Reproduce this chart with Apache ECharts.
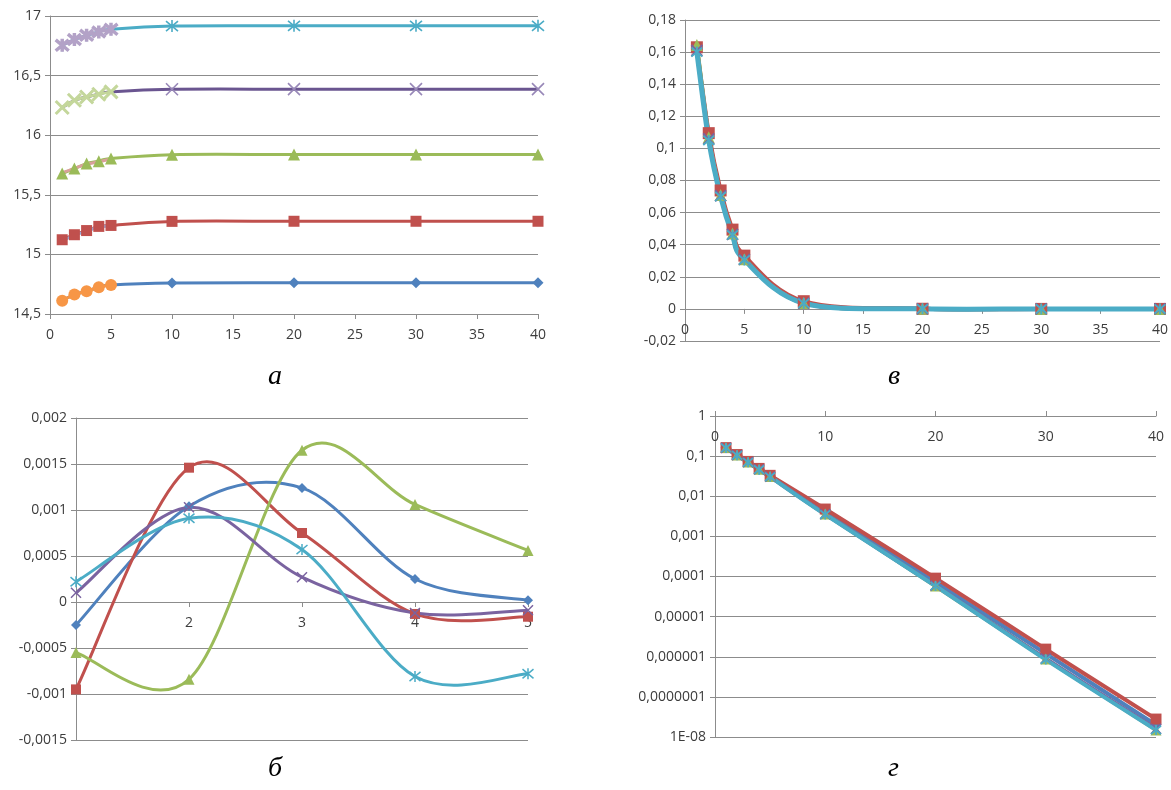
<!DOCTYPE html>
<html><head><meta charset="utf-8">
<script src="https://cdn.jsdelivr.net/npm/echarts@6/dist/echarts.min.js"></script>
<style>html,body{margin:0;padding:0;background:#fff}#c{width:1171px;height:790px}</style>
</head><body><div id="c"></div>
<script>
// ---------- DATA ----------
const xFull = [1, 2, 3, 4, 5, 10, 20, 30, 40];
const xShort = [1, 2, 3, 4, 5];

// Panel а
const a1Main  = [14.612, 14.663, 14.69, 14.724, 14.744, 14.761, 14.762, 14.762, 14.762];
const a1Early = [14.612, 14.663, 14.69, 14.724, 14.744];
const a2Main  = [15.123, 15.165, 15.2, 15.235, 15.243, 15.277, 15.278, 15.278, 15.278];
const a2Early = [15.115, 15.16, 15.196, 15.228, 15.24];
const a3Main  = [15.678, 15.72, 15.762, 15.781, 15.804, 15.837, 15.838, 15.838, 15.838];
const a3Early = [15.685, 15.722, 15.755, 15.778, 15.8];
const a4Main  = [16.232, 16.293, 16.321, 16.344, 16.363, 16.385, 16.386, 16.386, 16.386];
const a4Early = [16.232, 16.293, 16.321, 16.344, 16.363];
const a5Main  = [16.754, 16.802, 16.838, 16.866, 16.888, 16.916, 16.918, 16.918, 16.918];
const a5Early = [16.754, 16.802, 16.838, 16.866, 16.888];

// Panel б
const bX      = [1, 2, 3, 4, 5];
const bBlue   = [-0.00025, 0.00104, 0.00124, 0.00025, 0.00002];
const bRed    = [-0.00095, 0.00146, 0.00075, -0.00013, -0.00016];
const bGreen  = [-0.00055, -0.00084, 0.00165, 0.00106, 0.00056];
const bPurple = [0.0001, 0.00103, 0.00027, -0.00012, -0.00009];
const bTeal   = [0.00022, 0.00091, 0.00057, -0.00081, -0.00078];

// Panels в and г (same data, linear and log scale)
const vBlue   = [0.162, 0.108, 0.072, 0.048, 0.0325, 0.0041, 0.000072, 0.0000012, 0.00000002];
const vRed    = [0.163, 0.1095, 0.0738, 0.0494, 0.0332, 0.0048, 0.000091, 0.00000155, 0.000000028];
const vGreen  = [0.1645, 0.107, 0.071, 0.047, 0.031, 0.0036, 0.000058, 0.00000088, 0.000000015];
const vPurple = [0.161, 0.106, 0.0705, 0.0465, 0.0308, 0.0036, 0.000059, 0.0000009, 0.000000016];
const vTeal   = [0.16, 0.105, 0.07, 0.046, 0.0305, 0.0035, 0.000058, 0.00000085, 0.000000015];

// Tick labels of the log axis, exponent -8 .. 0
const logTickLabels = ['1E-08', '0,0000001', '0,000001', '0,00001', '0,0001', '0,001', '0,01', '0,1', '1'];
const captions = ['а', 'в', 'б', 'г'];

// ---------- STYLE / LAYOUT ----------
const C = {
  blue: '#4F81BD', red: '#C0504D', green: '#9BBB59', purple: '#7a63a0', teal: '#4BACC6',
  orange: '#F79646', ltblue: '#9BAAD8', salmon: '#D9A09A', ltgreen: '#C4D79B', lavender: '#B3A2C7',
  dkpurple: '#6a5590', xpurple: '#9888b8'
};
const SYM_X = 'path://M0,0L10,10M10,0L0,10';
const SYM_AST = 'path://M0,0L10,10M10,0L0,10M5,-1L5,11';
const gridCol = '#8c8c8c';
const labelFont = { fontFamily: 'Open Sans', fontSize: 14, color: '#3c3c3c' };
const comma = v => String(+(+v).toPrecision(10)).replace('.', ',');

const G = [
  { left: 50, top: 16, width: 488, height: 298 },    // а
  { left: 685, top: 20, width: 476, height: 321 },   // в
  { left: 76, top: 418, width: 452, height: 322 },   // б
  { left: 715, top: 416, width: 441, height: 321 }   // г
];
const Y = [[14.5, 17, 0.5], [-0.02, 0.18, 0.02], [-0.0015, 0.002, 0.0005]];
// horizontal axis crosses the vertical one at 0 (Excel style)
const zeroOffset = gi => -G[gi].height * (0 - Y[gi][0]) / (Y[gi][1] - Y[gi][0]);

function mk(xs, ys) { return xs.map((x, i) => [x, ys[i]]); }

// Excel-like smoothed line (Catmull-Rom, tension 1/6) drawn through the axis scales
function curve(idx, xs, ys, color, width) {
  const pts = mk(xs, ys);
  return {
    type: 'custom', xAxisIndex: idx, yAxisIndex: idx, data: pts,
    encode: { x: 0, y: 1 }, silent: true, clip: true,
    renderItem: function (params, api) {
      if (params.dataIndex !== 0) return null;
      const P = pts.map(p => api.coord(p));
      const children = [];
      for (let i = 0; i < P.length - 1; i++) {
        const p0 = P[i - 1] || P[i], p1 = P[i], p2 = P[i + 1], p3 = P[i + 2] || P[i + 1];
        children.push({
          type: 'bezierCurve',
          shape: {
            x1: p1[0], y1: p1[1], x2: p2[0], y2: p2[1],
            cpx1: p1[0] + (p2[0] - p0[0]) / 6, cpy1: p1[1] + (p2[1] - p0[1]) / 6,
            cpx2: p2[0] - (p3[0] - p1[0]) / 6, cpy2: p2[1] - (p3[1] - p1[1]) / 6
          },
          style: { stroke: color, lineWidth: width, fill: 'none', lineCap: 'round', lineJoin: 'round' }
        });
      }
      return { type: 'group', children: children };
    }
  };
}
function marks(idx, xs, ys, color, symbol, size, bw) {
  const stroked = symbol.indexOf('path://') === 0;
  return {
    type: 'scatter', xAxisIndex: idx, yAxisIndex: idx, data: mk(xs, ys),
    symbol: symbol, symbolSize: size, silent: true,
    itemStyle: { color: color, borderColor: color, borderWidth: stroked ? (bw || 1.6) : 0, opacity: 1 },
    emphasis: { disabled: true }
  };
}
function both(idx, xs, ys, lineColor, width, markColor, symbol, size, bw) {
  const out = [curve(idx, xs, ys, lineColor, width)];
  if (symbol) out.push(marks(idx, xs, ys, markColor, symbol, size, bw));
  return out;
}

function valueAxisX(gi, min, max, interval, extra) {
  return Object.assign({
    type: 'value', gridIndex: gi, min: min, max: max, interval: interval,
    axisLine: { show: true, onZero: false, lineStyle: { color: gridCol, width: 1 } },
    axisTick: { show: true, length: 5, lineStyle: { color: gridCol } },
    axisLabel: Object.assign({ margin: 14, formatter: comma }, labelFont),
    splitLine: { show: false }
  }, extra || {});
}
function valueAxisY(gi, extra) {
  return Object.assign({
    type: 'value', gridIndex: gi, min: Y[gi][0], max: Y[gi][1], interval: Y[gi][2],
    axisLine: { show: true, onZero: false, lineStyle: { color: gridCol, width: 1 } },
    axisTick: { show: true, length: 5, lineStyle: { color: gridCol } },
    axisLabel: Object.assign({ margin: 9, formatter: comma }, labelFont),
    splitLine: { show: true, lineStyle: { color: gridCol, width: 1 } }
  }, extra || {});
}

const series = [].concat(
  // ---- а ----
  both(0, xFull, a1Main, C.blue, 3, C.blue, 'diamond', 11),
  both(0, xShort, a1Early, C.orange, 3, C.orange, 'circle', 12),
  both(0, xFull, a2Main, C.red, 3, C.red, 'rect', 11),
  both(0, xShort, a2Early, C.ltblue, 3),
  both(0, xFull, a3Main, C.green, 3, C.green, 'triangle', 12),
  both(0, xShort, a3Early, C.salmon, 3),
  both(0, xFull, a4Main, C.dkpurple, 3, C.xpurple, SYM_X, 12, 1.6),
  both(0, xShort, a4Early, C.ltgreen, 3, C.ltgreen, SYM_X, 13, 3),
  both(0, xFull, a5Main, C.teal, 3, C.teal, SYM_AST, 12, 1.6),
  both(0, xShort, a5Early, C.lavender, 3, C.lavender, SYM_AST, 13, 3.5),
  // ---- в ----
  both(1, xFull, vBlue, C.blue, 4, C.blue, 'diamond', 11),
  both(1, xFull, vRed, C.red, 4, C.red, 'rect', 12),
  both(1, xFull, vGreen, C.green, 4, C.green, 'triangle', 12),
  both(1, xFull, vPurple, C.purple, 4, C.purple, SYM_X, 11, 1.8),
  both(1, xFull, vTeal, C.teal, 5, C.teal, SYM_AST, 11, 1.8),
  // ---- б ----
  both(2, bX, bBlue, C.blue, 3, C.blue, 'diamond', 10),
  both(2, bX, bRed, C.red, 3, C.red, 'rect', 10),
  both(2, bX, bGreen, C.green, 3, C.green, 'triangle', 11),
  both(2, bX, bPurple, C.purple, 3, C.purple, SYM_X, 10, 1.5),
  both(2, bX, bTeal, C.teal, 3, C.teal, SYM_AST, 11, 1.5),
  // ---- г ----
  both(3, xFull, vBlue, C.blue, 4, C.blue, 'diamond', 11),
  both(3, xFull, vRed, C.red, 4, C.red, 'rect', 11),
  both(3, xFull, vGreen, C.green, 4, C.green, 'triangle', 11),
  both(3, xFull, vPurple, C.purple, 4, C.purple, SYM_X, 10, 1.8),
  both(3, xFull, vTeal, C.teal, 4, C.teal, SYM_AST, 10, 1.8)
);

const capFont = 'italic 28px "Liberation Serif"';
const chart = echarts.init(document.getElementById('c'), null, { renderer: 'canvas' });
chart.setOption({
  animation: false,
  backgroundColor: '#ffffff',
  grid: G,
  xAxis: [
    valueAxisX(0, 0, 40, 5, { axisLine: { show: false } }),
    valueAxisX(1, 0, 40, 5, { offset: zeroOffset(1) }),
    valueAxisX(2, 1, 5, 1, { offset: zeroOffset(2),
      axisLabel: Object.assign({ margin: 14, formatter: v => v === 1 ? '' : String(v) }, labelFont) }),
    valueAxisX(3, 0, 40, 10, {
      position: 'top',
      axisLabel: Object.assign({ inside: true, margin: 14, formatter: v => String(v) }, labelFont)
    })
  ],
  yAxis: [
    valueAxisY(0),
    valueAxisY(1),
    valueAxisY(2),
    {
      type: 'log', logBase: 10, gridIndex: 3, min: 1e-8, max: 1, splitNumber: 8,
      axisLine: { show: true, onZero: false, lineStyle: { color: gridCol, width: 1 } },
      axisTick: { show: true, length: 5, lineStyle: { color: gridCol } },
      axisLabel: Object.assign({ margin: 9, formatter: v => logTickLabels[Math.round(Math.log10(v)) + 8] }, labelFont),
      splitLine: { show: true, lineStyle: { color: gridCol, width: 1 } },
      minorTick: { show: false }
    }
  ],
  series: series,
  graphic: [
    { type: 'text', left: 268, top: 363, style: { text: captions[0], font: capFont, fill: '#000' } },
    { type: 'text', left: 888, top: 363, style: { text: captions[1], font: capFont, fill: '#000' } },
    { type: 'text', left: 268, top: 755, style: { text: captions[2], font: capFont, fill: '#000' } },
    { type: 'text', left: 888, top: 755, style: { text: captions[3], font: capFont, fill: '#000' } }
  ]
});
</script>
</body></html>
